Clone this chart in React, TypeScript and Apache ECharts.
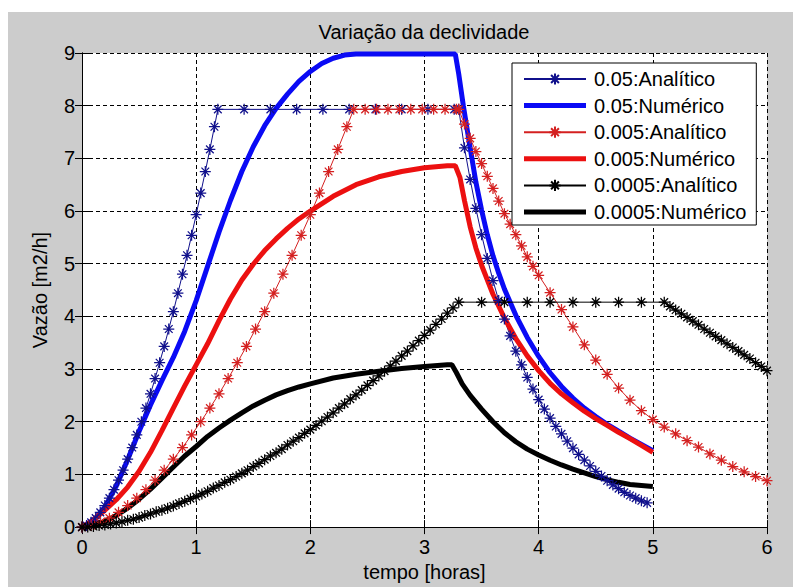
import React, { useEffect, useRef } from "react";
import * as echarts from "echarts";

const FONT = "'Liberation Sans', Arial, Helvetica, sans-serif";

const seriesNames = [
  "0.05:Analítico",
  "0.05:Numérico",
  "0.005:Analítico",
  "0.005:Numérico",
  "0.0005:Analítico",
  "0.0005:Numérico",
];

// 0.05 analytic (blue, thin with * markers)
const a05: [number, number][] = [
  [0, 0], [0.04, 0.03], [0.08, 0.09], [0.12, 0.17], [0.16, 0.28], [0.2, 0.41], [0.24, 0.55],
  [0.28, 0.71], [0.32, 0.89], [0.36, 1.08], [0.4, 1.29], [0.44, 1.51], [0.48, 1.75], [0.52, 2.0],
  [0.56, 2.26], [0.6, 2.53], [0.64, 2.82], [0.68, 3.12], [0.72, 3.43], [0.76, 3.76], [0.8, 4.09],
  [0.84, 4.44], [0.88, 4.8], [0.92, 5.16], [0.96, 5.54], [1.0, 5.93], [1.04, 6.34], [1.08, 6.75],
  [1.12, 7.17], [1.16, 7.6], [1.19, 7.93],
  [1.42, 7.93], [1.65, 7.93], [1.88, 7.93], [2.11, 7.93], [2.34, 7.93], [2.57, 7.93], [2.8, 7.93],
  [3.03, 7.93], [3.26, 7.93], [3.3, 7.93],
  [3.35, 7.2], [3.4, 6.6], [3.45, 6.05], [3.5, 5.55], [3.55, 5.1], [3.6, 4.68], [3.65, 4.3],
  [3.7, 3.95], [3.75, 3.63], [3.8, 3.34], [3.85, 3.08], [3.9, 2.84], [3.95, 2.62], [4.0, 2.42],
  [4.05, 2.24], [4.1, 2.07], [4.15, 1.91], [4.2, 1.77], [4.25, 1.63], [4.3, 1.5], [4.35, 1.38],
  [4.4, 1.27], [4.45, 1.16], [4.5, 1.06], [4.55, 0.97], [4.6, 0.88], [4.65, 0.8], [4.7, 0.73],
  [4.75, 0.66], [4.8, 0.6], [4.85, 0.55], [4.9, 0.5], [4.95, 0.46],
];

// 0.05 numeric (blue, thick)
const n05: [number, number][] = [
  [0, 0], [0.1, 0.12], [0.2, 0.38], [0.3, 0.78], [0.4, 1.28], [0.5, 1.82], [0.6, 2.32], [0.7, 2.78],
  [0.8, 3.22], [0.9, 3.72], [1.0, 4.3], [1.1, 4.95], [1.2, 5.6], [1.3, 6.2], [1.4, 6.75], [1.5, 7.22],
  [1.6, 7.62], [1.7, 7.95], [1.8, 8.22], [1.9, 8.46], [2.0, 8.65], [2.1, 8.8], [2.2, 8.9], [2.3, 8.96],
  [2.4, 8.98], [3.27, 8.98], [3.3, 8.6], [3.34, 8.0], [3.4, 7.2], [3.45, 6.55], [3.5, 6.02],
  [3.55, 5.55], [3.6, 5.15], [3.65, 4.82], [3.7, 4.52], [3.8, 4.02], [3.9, 3.6], [4.0, 3.24],
  [4.1, 2.93], [4.2, 2.67], [4.3, 2.45], [4.4, 2.26], [4.5, 2.1], [4.6, 1.95], [4.7, 1.82],
  [4.8, 1.69], [4.9, 1.57], [5.0, 1.45],
];

// 0.005 analytic (red, thin with * markers)
const a005: [number, number][] = [
  [0, 0], [0.08, 0.03], [0.16, 0.09], [0.24, 0.17], [0.32, 0.28], [0.4, 0.41], [0.48, 0.55],
  [0.56, 0.71], [0.64, 0.89], [0.72, 1.08], [0.8, 1.29], [0.88, 1.51], [0.96, 1.75], [1.04, 2.0],
  [1.12, 2.26], [1.2, 2.53], [1.28, 2.82], [1.36, 3.12], [1.44, 3.43], [1.52, 3.76], [1.6, 4.09],
  [1.68, 4.44], [1.76, 4.8], [1.84, 5.16], [1.92, 5.54], [2.0, 5.93], [2.08, 6.34], [2.16, 6.75],
  [2.24, 7.17], [2.32, 7.6], [2.38, 7.93],
  [2.48, 7.93], [2.58, 7.93], [2.68, 7.93], [2.78, 7.93], [2.88, 7.93], [2.98, 7.93], [3.08, 7.93],
  [3.18, 7.93], [3.28, 7.93], [3.3, 7.93],
  [3.35, 7.65], [3.4, 7.38], [3.45, 7.13], [3.5, 6.9], [3.55, 6.66], [3.6, 6.43], [3.65, 6.19],
  [3.7, 5.95], [3.75, 5.75], [3.8, 5.55], [3.85, 5.34], [3.9, 5.13], [3.95, 4.95], [4.0, 4.78],
  [4.1, 4.45], [4.2, 4.13], [4.3, 3.8], [4.4, 3.46], [4.5, 3.17], [4.6, 2.9], [4.7, 2.64],
  [4.8, 2.41], [4.9, 2.21], [5.0, 2.04], [5.1, 1.9], [5.2, 1.77], [5.3, 1.64], [5.4, 1.52],
  [5.5, 1.39], [5.6, 1.27], [5.7, 1.15], [5.8, 1.05], [5.9, 0.96], [6.0, 0.88],
];

// 0.005 numeric (red, thick)
const n005: [number, number][] = [
  [0, 0], [0.1, 0.14], [0.2, 0.32], [0.3, 0.52], [0.4, 0.76], [0.5, 1.06], [0.6, 1.42], [0.7, 1.83],
  [0.8, 2.26], [0.9, 2.68], [1.0, 3.08], [1.1, 3.48], [1.2, 3.92], [1.3, 4.33], [1.4, 4.69], [1.5, 4.99],
  [1.6, 5.25], [1.7, 5.47], [1.8, 5.67], [1.9, 5.85], [2.0, 6.0], [2.2, 6.28], [2.4, 6.5], [2.6, 6.65],
  [2.8, 6.75], [3.0, 6.82], [3.2, 6.86], [3.27, 6.86], [3.31, 6.64], [3.35, 6.2], [3.4, 5.7],
  [3.45, 5.3], [3.5, 4.97], [3.6, 4.42], [3.7, 3.97], [3.8, 3.58], [3.9, 3.25], [4.0, 2.97],
  [4.1, 2.73], [4.2, 2.53], [4.3, 2.36], [4.4, 2.2], [4.5, 2.06], [4.6, 1.93], [4.7, 1.8],
  [4.8, 1.68], [4.9, 1.55], [5.0, 1.42],
];

// 0.0005 analytic (black, thin with * markers)
const a0005: [number, number][] = [
  [0, 0], [0.05, 0.0], [0.1, 0.01], [0.15, 0.03], [0.2, 0.04], [0.25, 0.06], [0.3, 0.08], [0.35, 0.1],
  [0.4, 0.13], [0.45, 0.15], [0.5, 0.18], [0.55, 0.22], [0.6, 0.25], [0.65, 0.29], [0.7, 0.32],
  [0.75, 0.36], [0.8, 0.4], [0.85, 0.45], [0.9, 0.49], [0.95, 0.54], [1.0, 0.58], [1.05, 0.63],
  [1.1, 0.68], [1.15, 0.74], [1.2, 0.79], [1.25, 0.85], [1.3, 0.9], [1.35, 0.96], [1.4, 1.02],
  [1.45, 1.08], [1.5, 1.15], [1.55, 1.21], [1.6, 1.28], [1.65, 1.35], [1.7, 1.41], [1.75, 1.48],
  [1.8, 1.56], [1.85, 1.63], [1.9, 1.7], [1.95, 1.78], [2.0, 1.85], [2.05, 1.93], [2.1, 2.01],
  [2.15, 2.09], [2.2, 2.17], [2.25, 2.26], [2.3, 2.34], [2.35, 2.43], [2.4, 2.51], [2.45, 2.6],
  [2.5, 2.69], [2.55, 2.78], [2.6, 2.87], [2.65, 2.96], [2.7, 3.06], [2.75, 3.15], [2.8, 3.25],
  [2.85, 3.34], [2.9, 3.44], [2.95, 3.54], [3.0, 3.64], [3.05, 3.74], [3.1, 3.85], [3.15, 3.95],
  [3.2, 4.06], [3.25, 4.16], [3.3, 4.27],
  [3.5, 4.27], [3.7, 4.27], [3.9, 4.27], [4.1, 4.27], [4.3, 4.27], [4.5, 4.27], [4.7, 4.27], [4.9, 4.27],
  [5.1, 4.27],
  [5.15, 4.19], [5.2, 4.12], [5.25, 4.05], [5.3, 3.98], [5.35, 3.91], [5.4, 3.84], [5.45, 3.76],
  [5.5, 3.69], [5.55, 3.62], [5.6, 3.55], [5.65, 3.48], [5.7, 3.41], [5.75, 3.34], [5.8, 3.27],
  [5.85, 3.2], [5.9, 3.12], [5.95, 3.05], [6.0, 2.97],
];

// 0.0005 numeric (black, thick)
const n0005: [number, number][] = [
  [0, 0], [0.1, 0.04], [0.2, 0.11], [0.3, 0.22], [0.4, 0.36], [0.5, 0.53], [0.6, 0.72], [0.7, 0.93],
  [0.8, 1.14], [0.9, 1.35], [1.0, 1.53], [1.1, 1.72], [1.2, 1.88], [1.3, 2.03], [1.4, 2.17], [1.5, 2.3],
  [1.6, 2.41], [1.7, 2.51], [1.8, 2.59], [1.9, 2.66], [2.0, 2.72], [2.2, 2.83], [2.4, 2.9], [2.6, 2.96],
  [2.8, 3.01], [3.0, 3.05], [3.2, 3.08], [3.24, 3.08], [3.28, 2.93], [3.33, 2.72], [3.4, 2.5],
  [3.5, 2.24], [3.6, 2.0], [3.7, 1.79], [3.8, 1.62], [3.9, 1.48], [4.0, 1.37], [4.1, 1.27],
  [4.2, 1.18], [4.3, 1.1], [4.4, 1.03], [4.5, 0.96], [4.6, 0.9], [4.7, 0.85], [4.8, 0.81],
  [4.9, 0.79], [5.0, 0.77],
];

const STAR = "path://M5,0L5,10M0,5L10,5M1.5,1.5L8.5,8.5M1.5,8.5L8.5,1.5";
const THICK_ICON = "path://M0,0H62V5H0Z";

const analytic = (name: string, data: [number, number][], color: string) => ({
  name,
  type: "line",
  data,
  symbol: STAR,
  symbolSize: 11,
  showSymbol: true,
  lineStyle: { color, width: 1 },
  itemStyle: { color, borderColor: color, borderWidth: 1.25 },
  emphasis: { disabled: true },
  silent: true,
});

const numeric = (name: string, data: [number, number][], color: string) => ({
  name,
  type: "line",
  data,
  symbol: "none",
  showSymbol: false,
  lineStyle: { color, width: 5 },
  itemStyle: { color },
  emphasis: { disabled: true },
  silent: true,
});

const gridDash = { color: "#000", width: 1, type: [4, 3] as number[] };

export default function App() {
  const ref = useRef<HTMLDivElement>(null);
  useEffect(() => {
    if (!ref.current) return;
    const chart = echarts.init(ref.current, undefined, { renderer: "svg" });
    const axisText = { fontFamily: FONT, fontSize: 20, color: "#000" };
    chart.setOption({
      animation: false,
      backgroundColor: "transparent",
      title: {
        text: "Variação da declividade",
        left: 424,
        top: 22,
        textAlign: "center",
        padding: 0,
        textStyle: { fontFamily: FONT, fontSize: 20, fontWeight: "normal", color: "#000" },
      },
      grid: {
        left: 82,
        right: 26,
        top: 53,
        bottom: 52,
        show: true,
        backgroundColor: "#ffffff",
        borderWidth: 0,
      },
      legend: {
        orient: "vertical",
        left: 512,
        top: 63,
        padding: [6, 10, 3, 11],
        itemWidth: 62,
        itemHeight: 14,
        itemGap: 6.6,
        backgroundColor: "#ffffff",
        borderColor: "#000",
        borderWidth: 1,
        selectedMode: false,
        textStyle: { fontFamily: FONT, fontSize: 20, color: "#000", lineHeight: 20, padding: [0, 0, 0, 3] },
        data: [
          { name: seriesNames[0] },
          { name: seriesNames[1], icon: THICK_ICON },
          { name: seriesNames[2] },
          { name: seriesNames[3], icon: THICK_ICON },
          { name: seriesNames[4] },
          { name: seriesNames[5], icon: THICK_ICON },
        ],
      },
      xAxis: [
        {
          type: "value",
          min: 0,
          max: 6,
          interval: 1,
          name: "tempo [horas]",
          nameLocation: "middle",
          nameGap: 29,
          nameTextStyle: axisText,
          axisLine: { show: true, lineStyle: { color: "#000", width: 1 } },
          axisTick: { show: true, inside: true, length: 7, lineStyle: { color: "#000" } },
          axisLabel: { ...axisText, margin: 10 },
          splitLine: { show: true, lineStyle: gridDash },
        },
        {
          type: "value",
          position: "top",
          min: 0,
          max: 6,
          interval: 1,
          axisLine: { show: true, lineStyle: { color: "#000", width: 1 } },
          axisTick: { show: true, inside: true, length: 7, lineStyle: { color: "#000" } },
          axisLabel: { show: false },
          splitLine: { show: false },
        },
      ],
      yAxis: [
        {
          type: "value",
          min: 0,
          max: 9,
          interval: 1,
          name: "Vazão [m2/h]",
          nameLocation: "middle",
          nameGap: 32,
          nameTextStyle: axisText,
          axisLine: { show: true, lineStyle: { color: "#000", width: 1 } },
          axisTick: { show: true, inside: true, length: 7, lineStyle: { color: "#000" } },
          axisLabel: { ...axisText, margin: 7 },
          splitLine: { show: true, lineStyle: gridDash },
        },
        {
          type: "value",
          position: "right",
          min: 0,
          max: 9,
          interval: 1,
          axisLine: { show: true, lineStyle: { color: "#000", width: 1 } },
          axisTick: { show: true, inside: true, length: 7, lineStyle: { color: "#000" } },
          axisLabel: { show: false },
          splitLine: { show: false },
        },
      ],
      series: [
        analytic(seriesNames[0], a05, "#10108c"),
        numeric(seriesNames[1], n05, "#0a0af5"),
        analytic(seriesNames[2], a005, "#d42020"),
        numeric(seriesNames[3], n005, "#ec1010"),
        analytic(seriesNames[4], a0005, "#000000"),
        numeric(seriesNames[5], n0005, "#000000"),
      ],
    });
    return () => chart.dispose();
  }, []);

  return (
    <div style={{ position: "absolute", left: 0, top: 0, width: 793, height: 587, background: "#ffffff" }}>
      <div
        style={{ position: "absolute", left: 8, top: 12, width: 785, height: 575, background: "#cccccc" }}
      />
      <div ref={ref} style={{ position: "absolute", left: 0, top: 0, width: 793, height: 587 }} />
    </div>
  );
}
